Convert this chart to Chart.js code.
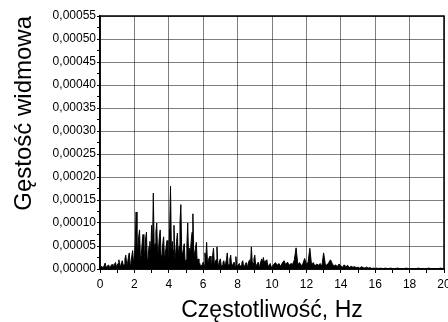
<!DOCTYPE html>
<html>
<head>
<meta charset="utf-8">
<script src="https://cdn.jsdelivr.net/npm/chart.js@4/dist/chart.umd.min.js"></script>
<style>
html,body{margin:0;padding:0;background:#fff;}
#wrap{width:448px;height:322px;position:relative;}
</style>
</head>
<body>
<div id="wrap"><canvas id="c" width="448" height="322"></canvas></div>
<script>
// Frequency axis (Hz): 0.05 Hz steps up to 10 Hz, 0.1 Hz steps after
const freqHz = [
0,0.05,0.1,0.15,0.2,0.25,0.3,0.35,0.4,0.45,0.5,0.55,0.6,0.65,0.7,0.75,0.8,0.85,0.9,0.95,
1,1.05,1.1,1.15,1.2,1.25,1.3,1.35,1.4,1.45,1.5,1.55,1.6,1.65,1.7,1.75,1.8,1.85,1.9,1.95,
2,2.05,2.1,2.15,2.2,2.25,2.3,2.35,2.4,2.45,2.5,2.55,2.6,2.65,2.7,2.75,2.8,2.85,2.9,2.95,
3,3.05,3.1,3.15,3.2,3.25,3.3,3.35,3.4,3.45,3.5,3.55,3.6,3.65,3.7,3.75,3.8,3.85,3.9,3.95,
4,4.05,4.1,4.15,4.2,4.25,4.3,4.35,4.4,4.45,4.5,4.55,4.6,4.65,4.7,4.75,4.8,4.85,4.9,4.95,
5,5.05,5.1,5.15,5.2,5.25,5.3,5.35,5.4,5.45,5.5,5.55,5.6,5.65,5.7,5.75,5.8,5.85,5.9,5.95,
6,6.05,6.1,6.15,6.2,6.25,6.3,6.35,6.4,6.45,6.5,6.55,6.6,6.65,6.7,6.75,6.8,6.85,6.9,6.95,
7,7.05,7.1,7.15,7.2,7.25,7.3,7.35,7.4,7.45,7.5,7.55,7.6,7.65,7.7,7.75,7.8,7.85,7.9,7.95,
8,8.05,8.1,8.15,8.2,8.25,8.3,8.35,8.4,8.45,8.5,8.55,8.6,8.65,8.7,8.75,8.8,8.85,8.9,8.95,
9,9.05,9.1,9.15,9.2,9.25,9.3,9.35,9.4,9.45,9.5,9.55,9.6,9.65,9.7,9.75,9.8,9.85,9.9,9.95,
10,10.1,10.2,10.3,10.4,10.5,10.6,10.7,10.8,10.9,
11,11.1,11.2,11.3,11.4,11.5,11.6,11.7,11.8,11.9,
12,12.1,12.2,12.3,12.4,12.5,12.6,12.7,12.8,12.9,
13,13.1,13.2,13.3,13.4,13.5,13.6,13.7,13.8,13.9,
14,14.1,14.2,14.3,14.4,14.5,14.6,14.7,14.8,14.9,
15,15.1,15.2,15.3,15.4,15.5,15.6,15.7,15.8,15.9,
16,16.1,16.2,16.3,16.4,16.5,16.6,16.7,16.8,16.9,
17,17.1,17.2,17.3,17.4,17.5,17.6,17.7,17.8,17.9,
18,18.1,18.2,18.3,18.4,18.5,18.6,18.7,18.8,18.9,
19,19.1,19.2,19.3,19.4,19.5,19.6,19.7,19.8,19.9,
20
];
// Spectral density, in units of 1e-6
const psdMicro = [
2,4,6,3,4,8,13,4,5,7,9,4,3,8,10,5,6,11,14,6,
8,12,20,6,7,14,18,8,9,22,30,10,12,25,35,9,15,28,40,14,
22,60,124,30,45,70,85,20,30,55,75,28,38,65,80,15,25,50,60,30,
95,40,165,45,55,80,100,25,40,70,85,30,20,55,70,18,35,50,62,15,
25,90,180,35,60,40,95,20,35,60,78,25,50,100,140,40,30,45,55,15,
20,50,100,25,45,30,60,80,120,30,35,45,58,15,22,10,12,5,8,10,
15,8,35,20,58,10,18,25,28,8,12,30,45,8,15,20,48,12,10,18,
22,6,8,14,18,5,12,20,35,8,10,22,30,6,8,12,15,6,27,9,
5,9,12,4,8,14,18,5,6,10,14,6,10,16,20,9,48,15,12,22,
30,7,8,12,15,5,10,16,22,14,25,12,18,10,20,8,6,10,12,4,
5,10,14,8,12,6,13,18,9,15,
8,12,10,20,46,9,14,7,12,23,
10,15,45,8,14,6,11,8,12,6,
35,10,8,14,20,12,6,9,5,11,
7,4,9,5,8,3,6,4,5,3,
4,2,5,3,2,4,2,3,1,2,
1,2,1,2,1,1,2,1,1,2,
1,1,1,2,1,1,1,1,2,1,
1,1,1,1,1,2,1,1,1,1,
1,2,1,1,1,1,1,1,2,1,
1
];
const xTitle = 'Częstotliwość, Hz';
const yTitle = 'Gęstość widmowa';
const xMin = 0, xMax = 20, xMinorStep = 1;
const yMin = 0, yMax = 0.00055, yMinorStep = 0.000025;

const points = freqHz.map((f, i) => ({ x: f, y: psdMicro[i] * 1e-6 }));

const framePlugin = {
  id: 'frame',
  afterDraw(chart) {
    const { ctx, chartArea: a } = chart;
    ctx.save();
    ctx.strokeStyle = '#000';
    ctx.lineWidth = 1.5;
    ctx.strokeRect(a.left, a.top, a.right - a.left, a.bottom - a.top);
    ctx.restore();
  }
};

const FONT = "'Liberation Sans', Arial, sans-serif";
const GRID = 'rgba(0,0,0,0.5)';
const majorOnly = c => (c.index % 2 === 0 ? GRID : 'rgba(0,0,0,0)');

new Chart(document.getElementById('c'), {
  type: 'line',
  data: {
    datasets: [{
      data: points,
      borderColor: '#000',
      backgroundColor: '#000',
      borderWidth: 1,
      pointRadius: 0,
      tension: 0,
      fill: 'origin'
    }]
  },
  options: {
    responsive: false,
    animation: false,
    events: [],
    layout: { padding: { top: 16, right: 4, left: 0, bottom: 0 } },
    plugins: { legend: { display: false }, tooltip: { enabled: false } },
    scales: {
      x: {
        type: 'linear',
        min: xMin, max: xMax,
        border: { display: true, color: '#000', width: 1.5 },
        grid: {
          color: majorOnly, lineWidth: 1,
          borderDash: [10, 4, 2, 4],
          drawTicks: true, tickLength: 4, tickColor: '#000', tickWidth: 1, tickBorderDash: []
        },
        ticks: {
          stepSize: xMinorStep, autoSkip: false, maxRotation: 0, padding: 4,
          color: '#000', font: { family: FONT, size: 12 },
          callback: (v, i) => (i % 2 === 0 ? String(v) : '')
        },
        title: {
          display: true, text: xTitle, color: '#000',
          font: { family: FONT, size: 23, lineHeight: 1 }, padding: 0
        },
        afterFit(s) { s.height = 53; s.paddingLeft = 0; s.paddingRight = 0; }
      },
      y: {
        min: yMin, max: yMax,
        border: { display: true, color: '#000', width: 1.5 },
        grid: {
          color: majorOnly, lineWidth: 1,
          borderDash: [10, 4, 2, 4],
          drawTicks: true, tickLength: 3, tickColor: '#000', tickWidth: 1, tickBorderDash: []
        },
        ticks: {
          stepSize: yMinorStep, autoSkip: false, padding: 1,
          color: '#000', font: { family: FONT, size: 12 },
          callback: (v, i) => (i % 2 === 0 ? v.toFixed(5).replace('.', ',') : '')
        },
        title: {
          display: true, text: yTitle, color: '#000', align: 'end',
          font: { family: FONT, size: 24, lineHeight: 1 }, padding: { top: 12, bottom: 0 }
        },
        afterFit(s) { s.width = 100; s.paddingTop = 0; s.paddingBottom = 0; }
      }
    }
  },
  plugins: [framePlugin]
});
</script>
</body>
</html>
